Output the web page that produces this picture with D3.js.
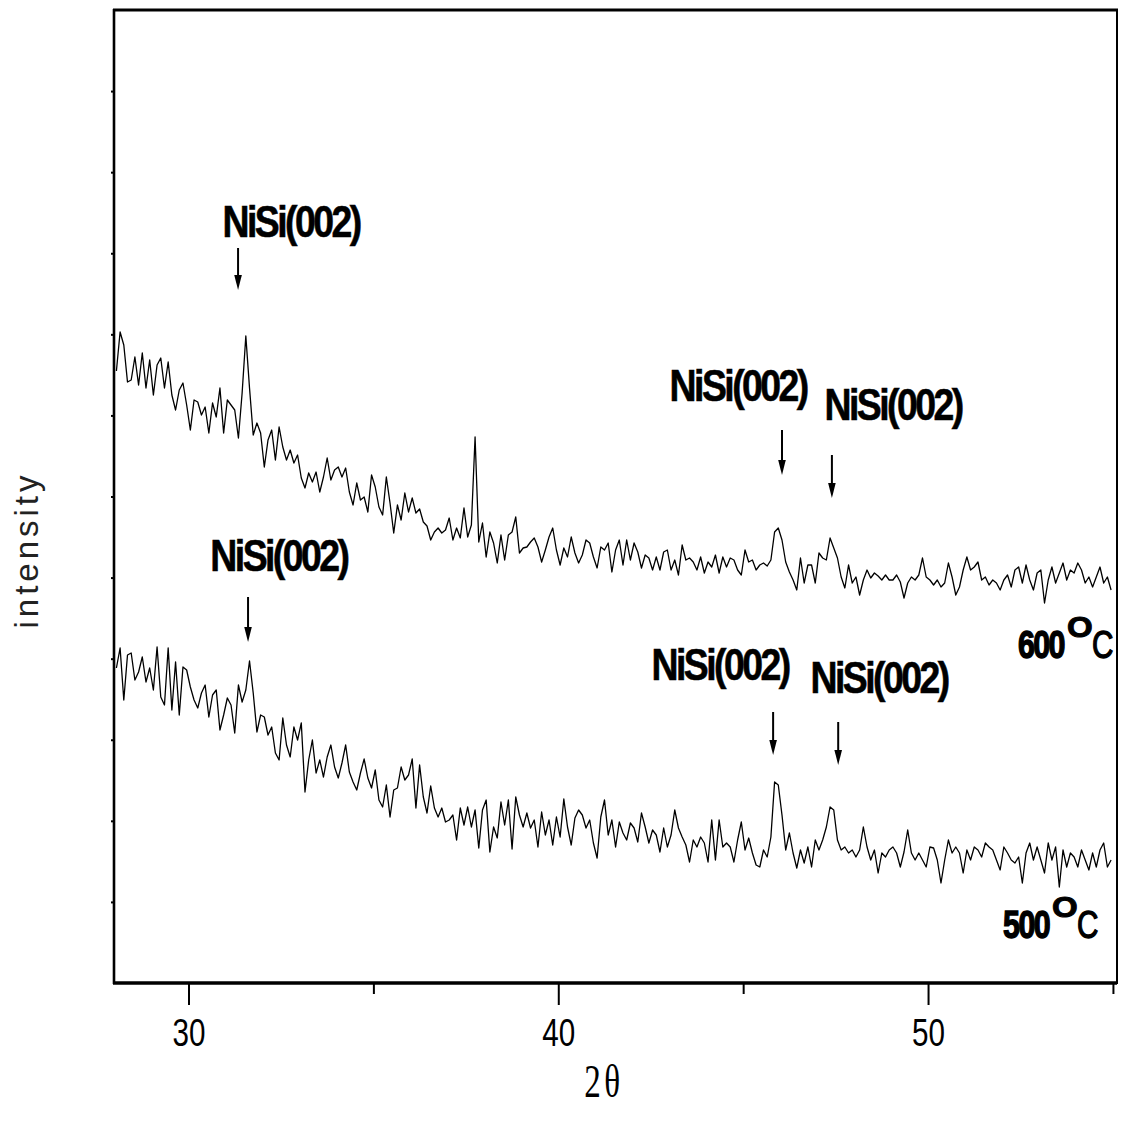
<!DOCTYPE html>
<html><head><meta charset="utf-8">
<script src="https://cdn.jsdelivr.net/npm/d3@7"></script>
<style>body{margin:0;background:#fff} svg{display:block}</style>
</head><body>
<svg id="chart" width="1122" height="1127"></svg>
<script>
// ---- data ----
const twoThetaStart = 28.05;
const twoThetaStep = 0.1;
const intensity600 = [
612,651,638,601,603,626,598,630,595,623,
588,618,625,595,621,588,573,593,600,578,
553,583,581,568,576,550,580,566,595,550,
583,578,573,545,590,647,595,548,560,550,
516,543,553,523,556,536,523,533,520,528,
505,495,510,501,511,491,506,525,503,513,
516,506,515,491,478,500,483,486,471,508,
496,476,468,506,480,450,478,463,490,471,
485,470,474,461,457,443,451,455,450,453,
465,443,455,445,475,446,458,546,441,460,
426,451,440,420,448,423,448,451,466,430,
435,436,441,445,436,421,433,446,455,433,
418,435,426,446,430,420,428,443,440,426,
415,436,433,440,411,433,443,418,443,423,
440,431,415,428,425,413,426,413,431,433,
413,423,408,438,423,425,421,413,426,410,
421,416,428,410,426,416,425,423,413,408,
433,421,423,413,418,420,417,423,451,455,
443,421,411,403,393,425,400,418,418,400,
430,425,423,445,435,425,406,395,418,400,
406,388,403,413,405,410,407,403,408,403,
403,408,401,385,400,406,403,408,425,406,
403,398,403,396,400,420,406,388,396,413,
426,413,416,421,403,406,398,403,400,393,
403,408,396,413,416,400,418,403,393,410,
413,380,403,416,400,410,420,403,413,410,
420,413,400,406,396,406,416,400,406,393
];
const intensity500 = [
315,335,283,328,330,303,311,326,301,315,
293,336,286,278,335,273,321,268,316,313,
296,283,275,290,298,266,288,293,253,268,
285,278,250,298,281,293,322,290,251,268,
266,248,256,230,223,265,238,226,256,243,
260,191,223,243,210,223,206,226,238,216,
205,220,238,211,201,193,210,224,205,195,
213,183,176,198,166,193,195,216,203,208,
224,175,218,186,170,197,175,166,175,161,
163,168,143,175,158,176,156,173,135,173,
183,131,156,145,181,158,183,134,186,168,
156,170,155,163,136,171,148,163,138,166,
146,184,156,138,165,173,168,155,163,140,
125,166,183,148,163,136,161,150,143,160,
155,141,170,156,140,153,148,131,155,136,
148,173,155,146,138,121,143,136,146,140,
121,163,123,163,136,140,136,121,143,161,
133,145,130,118,116,133,126,146,201,198,
168,133,150,130,115,133,120,136,116,143,
133,143,156,176,173,143,133,136,130,133,
126,133,156,136,123,133,110,130,126,133,
136,130,116,131,153,130,123,130,123,116,
136,135,123,100,123,143,130,136,130,110,
133,123,136,133,126,140,136,133,123,113,
136,130,123,120,126,100,130,140,123,136,
123,110,140,123,136,96,133,116,130,126,
116,133,123,113,130,116,133,140,116,123
];
const xTickMajor = [30, 40, 50];
const xTickMinor = [35, 45, 55];
const xTickLabels = ["30", "40", "50"];
const yTickCount = 12;
const peakLabelText = "NiSi(002)";
const peakLabelX = [32.72, 44.81, 49.00, 32.39, 44.32, 48.62];
const peakLabelY = [746, 582, 563, 412, 303, 290];
const arrowX = [31.34, 46.05, 47.40, 31.61, 45.81, 47.57];
const arrowTop = [735, 553, 528, 386, 271, 261];
const arrowBottom = [693, 508, 485, 341, 228, 218];
const tempNumbers = ["600", "500"];
const tempLabelX = [52.43, 52.03];
const tempLabelY = [326, 46];
const xTitle = "2\u03B8";
const yTitle = "intensity";

// ---- chart ----
const svg = d3.select("#chart");
const x = d3.scaleLinear().domain([27.985, 55.11]).range([114, 1117]);
const y = d3.scaleLinear().domain([0, 973]).range([983, 10]);

const line = d3.line()
  .x((d, i) => x(twoThetaStart + i * twoThetaStep))
  .y(d => y(d));

[intensity600, intensity500].forEach(s => {
  svg.append("path").datum(s).attr("d", line)
    .attr("fill", "none").attr("stroke", "#000").attr("stroke-width", 1.3)
    .attr("stroke-linejoin", "round");
});

// axes
const gx = svg.append("g").attr("transform", "translate(0,983)");
gx.call(d3.axisBottom(x).tickValues(xTickMajor).tickSize(22).tickPadding(14)
  .tickFormat((d, i) => xTickLabels[i]));
gx.select(".domain").remove();
gx.selectAll(".tick line").attr("stroke", "#000").attr("stroke-width", 2);
gx.selectAll(".tick text")
  .attr("font-family", "Liberation Sans, Arial, sans-serif")
  .attr("font-size", 38).attr("fill", "#000")
  .attr("transform", "scale(0.78,1)");

const gxm = svg.append("g").attr("transform", "translate(0,983)");
gxm.call(d3.axisBottom(x).tickValues(xTickMinor).tickSize(11).tickFormat(""));
gxm.select(".domain").remove();
gxm.selectAll(".tick line").attr("stroke", "#000").attr("stroke-width", 2);

const gy = svg.append("g").attr("transform", "translate(114,0)");
gy.call(d3.axisLeft(y)
  .tickValues(d3.range(1, yTickCount).map(k => k * 973 / yTickCount))
  .tickSize(3).tickFormat(""));
gy.select(".domain").remove();
gy.selectAll(".tick line").attr("stroke", "#000").attr("stroke-width", 2);

// frame
svg.append("line").attr("x1", 114).attr("x2", 114).attr("y1", 9).attr("y2", 984)
  .attr("stroke", "#000").attr("stroke-width", 2.6);
svg.append("line").attr("x1", 113).attr("x2", 1118).attr("y1", 10).attr("y2", 10)
  .attr("stroke", "#000").attr("stroke-width", 3);
svg.append("line").attr("x1", 1117).attr("x2", 1117).attr("y1", 9).attr("y2", 984)
  .attr("stroke", "#000").attr("stroke-width", 2);
svg.append("line").attr("x1", 113).attr("x2", 1117).attr("y1", 983).attr("y2", 983)
  .attr("stroke", "#000").attr("stroke-width", 3.6);

// helper for condensed text
function addText(px, py, str, opt) {
  const g = svg.append("g").attr("transform", `translate(${px},${py}) scale(${opt.sx || 1},1)`);
  const t = g.append("text").text(str)
    .attr("font-family", opt.family || "Liberation Sans, Arial, sans-serif")
    .attr("font-size", opt.size).attr("font-weight", opt.weight || "normal")
    .attr("text-anchor", opt.anchor || "start").attr("fill", opt.fill || "#000");
  if (opt.ls) t.attr("letter-spacing", opt.ls);
  if (opt.stroke) t.attr("stroke", "#000").attr("stroke-width", opt.stroke);
  return t;
}

// peak labels and arrows
peakLabelX.forEach((lx, i) => {
  addText(x(lx) + 2, y(peakLabelY[i]), peakLabelText,
    {size: 44, weight: "bold", sx: 0.85, anchor: "middle", ls: -3, stroke: 0.6});
  const ax = x(arrowX[i]), y1 = y(arrowTop[i]), y2 = y(arrowBottom[i]);
  svg.append("line").attr("x1", ax).attr("x2", ax).attr("y1", y1).attr("y2", y2 - 10)
    .attr("stroke", "#000").attr("stroke-width", 2);
  svg.append("path")
    .attr("d", `M${ax - 3.8},${y2 - 15} L${ax + 3.8},${y2 - 15} L${ax},${y2} Z`)
    .attr("fill", "#000");
});

// temperature labels
tempNumbers.forEach((num, i) => {
  const px = x(tempLabelX[i]), py = y(tempLabelY[i]);
  addText(px, py + 1, num, {size: 38, weight: "bold", sx: 0.8, ls: -2, stroke: 1.4});
  addText(px + 49, py - 20, "O", {size: 30, weight: "bold", sx: 1.1, stroke: 1});
  addText(px + 74, py + 1, "C", {size: 38, weight: "normal", sx: 0.78, stroke: 1.3});
});

// axis titles
addText(604, 1097, xTitle, {size: 46, family: "Liberation Serif, Times New Roman, serif", sx: 0.72, anchor: "middle", ls: 5});
svg.append("text").text(yTitle)
  .attr("transform", "translate(38,550) rotate(-90)")
  .attr("font-family", "Liberation Sans, Arial, sans-serif")
  .attr("font-size", 33).attr("letter-spacing", 4).attr("fill", "#222")
  .attr("text-anchor", "middle");
</script>
</body></html>
